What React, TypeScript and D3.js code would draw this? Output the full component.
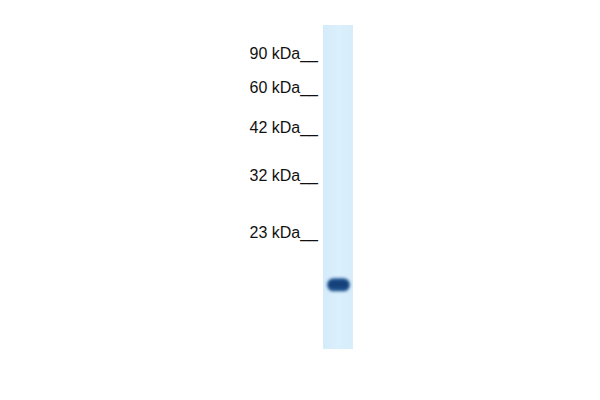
import React from 'react'
import * as d3 from 'd3'

const width = 600
const height = 400

// molecular weight markers and their relative migration down the lane (0 = well, 1 = end)
const markerLabels = ['90 kDa', '60 kDa', '42 kDa', '32 kDa', '23 kDa']
const markerMigration = [0.105, 0.21, 0.333, 0.481, 0.657]

// detected bands: relative migration and intensity
const bandMigration = [0.802]
const bandIntensity = [1]

const lane = { x: 323, w: 30, top: 25, bottom: 349 }

export default function App() {
  const y = d3.scaleLinear().domain([0, 1]).range([lane.top, lane.bottom])
  const shade = d3.scaleLinear<string>().domain([0, 1]).range(['#d9eefb', '#1f4f8c'])

  return (
    <svg
      width={width}
      height={height}
      style={{ position: 'absolute', left: 0, top: 0, background: '#fff' }}
      fontFamily="'Liberation Sans', Arial, sans-serif"
    >
      <defs>
        <linearGradient id="laneGrad" x1="0" x2="1" y1="0" y2="0">
          <stop offset="0" stopColor="#d4ebfa" />
          <stop offset="0.5" stopColor="#dbeffc" />
          <stop offset="1" stopColor="#d7edfb" />
        </linearGradient>
        <filter id="blur" x="-30%" y="-80%" width="160%" height="260%">
          <feGaussianBlur stdDeviation="1.8 1.6" />
        </filter>
      </defs>
      <rect x={lane.x} y={lane.top} width={lane.w} height={lane.bottom - lane.top} fill="url(#laneGrad)" />
      {bandMigration.map((m, i) => (
        <g key={i} filter="url(#blur)">
          <rect x={lane.x + 4} y={y(m) - 6.5} width={lane.w - 7} height={13} rx={6.5} fill={shade(bandIntensity[i])} />
          <rect x={lane.x + 6} y={y(m) - 3.5} width={lane.w - 11} height={6} rx={3} fill="#173f78" />
        </g>
      ))}
      {markerLabels.map((label, i) => (
        <text key={label} x={318} y={y(markerMigration[i])} textAnchor="end" fontSize={16} fill="#111">
          {label + '__'}
        </text>
      ))}
    </svg>
  )
}
